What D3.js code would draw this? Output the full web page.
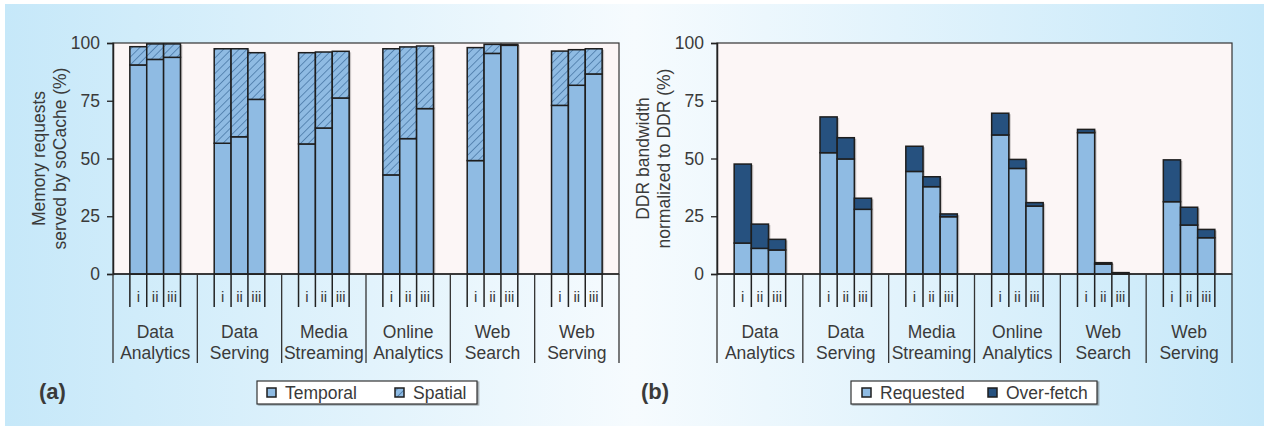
<!DOCTYPE html>
<html><head><meta charset="utf-8">
<script src="https://cdn.jsdelivr.net/npm/d3@7"></script>
<style>
html,body{margin:0;padding:0;background:#fff;}
svg{display:block;}
text{font-family:"Liberation Sans",Arial,Helvetica,sans-serif;fill:#3a3a3a;}
</style></head>
<body>
<svg id="chart" width="1264" height="426"></svg>
<script>
// ---- data ----
const categories = [["Data","Analytics"],["Data","Serving"],["Media","Streaming"],["Online","Analytics"],["Web","Search"],["Web","Serving"]];
const subLabels = ["i","ii","iii"];
const yTicks = [0,25,50,75,100];
// panel (a): memory requests served by soCache (%)
const temporal = [[90.5,92.9,93.8],[56.6,59.4,75.6],[56.3,63.2,76.2],[42.9,58.6,71.6],[49.1,95.5,99.0],[73.0,81.7,86.6]];
const spatial  = [[7.9,6.7,5.8],[40.9,38.1,20.2],[39.5,32.9,20.2],[54.6,39.7,27.1],[48.9,3.9,0.4],[23.5,15.4,10.9]];
// panel (b): DDR bandwidth normalized to DDR (%)
const requested = [[13.4,11.1,10.4],[52.5,49.8,28.0],[44.4,37.8,24.8],[60.2,45.7,29.4],[61.2,4.3,0.3],[31.3,21.2,15.7]];
const overfetch = [[34.2,10.5,4.6],[15.5,9.2,4.8],[10.9,4.3,1.2],[9.4,3.9,1.5],[1.4,0.6,0.3],[18.1,7.7,3.6]];

const FS = "17.5px";
const svg = d3.select("#chart");
const defs = svg.append("defs");
const bg = defs.append("linearGradient").attr("id","bg").attr("x1","0").attr("x2","1").attr("y1","0").attr("y2","0");
bg.append("stop").attr("offset","0").attr("stop-color","#c6e8f9");
bg.append("stop").attr("offset","0.5").attr("stop-color","#f6fbfe");
bg.append("stop").attr("offset","1").attr("stop-color","#c6e8f9");
const pat = defs.append("pattern").attr("id","hatch").attr("patternUnits","userSpaceOnUse")
  .attr("width",5.5).attr("height",5.5).attr("patternTransform","rotate(45)");
pat.append("rect").attr("width",5.5).attr("height",5.5).attr("fill","#8fbbe3");
pat.append("line").attr("x1",0).attr("y1",0).attr("x2",0).attr("y2",5.5).attr("stroke","#2c5c8c").attr("stroke-width",1.1);
const sh = defs.append("filter").attr("id","shadow").attr("x","-20%").attr("y","-20%").attr("width","150%").attr("height","150%");
sh.append("feDropShadow").attr("dx",1.5).attr("dy",1).attr("stdDeviation",0.7).attr("flood-color","#000").attr("flood-opacity",0.35);

svg.append("rect").attr("x",5).attr("y",4).attr("width",1259).attr("height",422).attr("fill","url(#bg)");

const LIGHT = "#8fbbe3", DARK = "#26517f", HATCH = "url(#hatch)";

function panel(cfg){
  const g = svg.append("g");
  const y = d3.scaleLinear().domain([0,100]).range([274,43]);
  const xg = d3.scaleBand().domain(d3.range(categories.length)).range([cfg.x0,cfg.x1]).padding(0);
  const xs = d3.scaleBand().domain(subLabels).range([0,xg.bandwidth()]).paddingInner(0).paddingOuter(1);

  // plot area
  g.append("rect").attr("x",cfg.x0).attr("y",y(100)).attr("width",cfg.x1-cfg.x0).attr("height",y(0)-y(100))
    .attr("fill","#fcf6f6").attr("stroke","#333").attr("stroke-width",1.2);

  // y axis
  const ax = g.append("g").attr("transform",`translate(${cfg.x0},0)`)
    .call(d3.axisLeft(y).tickValues(yTicks).tickSize(6).tickPadding(7));
  ax.attr("font-size",null).attr("font-family",null);
  ax.select(".domain").attr("stroke","#222").attr("stroke-width",1.5);
  ax.selectAll(".tick line").attr("stroke","#222").attr("stroke-width",1.3);
  ax.selectAll(".tick text").style("font-size",FS).attr("fill","#3a3a3a");

  // axis title
  const tt = g.append("text").attr("transform",`translate(${cfg.tx},158.5) rotate(-90)`).attr("text-anchor","middle").style("font-size",FS);
  tt.append("tspan").attr("x",0).attr("dy","0.35em").text(cfg.title[0]);
  tt.append("tspan").attr("x",0).attr("dy",21).text(cfg.title[1]);

  // bars
  categories.forEach((c,ci)=>{
    subLabels.forEach((s,si)=>{
      const bx = xg(ci)+xs(s), bw = xs.bandwidth();
      const v1 = cfg.s1[ci][si], v2 = cfg.s2[ci][si];
      g.append("rect").attr("x",bx).attr("y",y(v1+v2)).attr("width",bw).attr("height",y(0)-y(v1+v2))
        .attr("fill","#000").attr("filter","url(#shadow)");
      g.append("rect").attr("x",bx).attr("y",y(v1)).attr("width",bw).attr("height",y(0)-y(v1))
        .attr("fill",cfg.c1).attr("stroke","#1e1e1e").attr("stroke-width",1.5);
      g.append("rect").attr("x",bx).attr("y",y(v1+v2)).attr("width",bw).attr("height",y(v1)-y(v1+v2))
        .attr("fill",cfg.c2).attr("stroke","#1e1e1e").attr("stroke-width",1.5);
    });
  });

  // x axis line
  g.append("line").attr("x1",cfg.x0).attr("x2",cfg.x1).attr("y1",y(0)).attr("y2",y(0)).attr("stroke","#222").attr("stroke-width",1.5);

  // group dividers
  const edges = categories.map((c,i)=>xg(i)).concat([cfg.x1]);
  g.selectAll(".div").data(edges).enter().append("line")
    .attr("x1",d=>d).attr("x2",d=>d).attr("y1",y(0)).attr("y2",363).attr("stroke","#333").attr("stroke-width",1.3);

  categories.forEach((c,ci)=>{
    const gx = xg(ci);
    const subEdges = subLabels.map(s=>gx+xs(s)).concat([gx+xs("iii")+xs.bandwidth()]);
    subEdges.forEach(e=>{
      g.append("line").attr("x1",e).attr("x2",e).attr("y1",y(0)).attr("y2",307).attr("stroke","#222").attr("stroke-width",1.5);
    });
    subLabels.forEach(s=>{
      g.append("text").attr("x",gx+xs(s)+xs.bandwidth()/2).attr("y",302).attr("text-anchor","middle")
        .style("font-size","15px").text(s);
    });
    const lbl = g.append("text").attr("text-anchor","middle").style("font-size",FS);
    lbl.append("tspan").attr("x",gx+xg.bandwidth()/2).attr("y",337.5).text(c[0]);
    lbl.append("tspan").attr("x",gx+xg.bandwidth()/2).attr("y",358.5).text(c[1]);
  });

  // panel label
  g.append("text").attr("x",cfg.lx).attr("y",399).style("font-size","22px").style("font-weight","bold").attr("fill","#1a1a1a").text(cfg.label);

  // legend
  const L = cfg.legend;
  g.append("rect").attr("x",L.x).attr("y",381).attr("width",L.w).attr("height",23).attr("fill","#fff")
    .attr("stroke","#333").attr("stroke-width",1.2).attr("filter","url(#shadow)");
  L.items.forEach((it,i)=>{
    g.append("rect").attr("x",it.sx).attr("y",388).attr("width",9).attr("height",9)
      .attr("fill",it.fill).attr("stroke","#1e1e1e").attr("stroke-width",1.5);
    g.append("text").attr("x",it.sx+18).attr("y",398.5).style("font-size",FS).text(it.name);
  });
}

panel({x0:113,x1:619,tx:39,title:["Memory requests","served by soCache (%)"],s1:temporal,s2:spatial,c1:LIGHT,c2:HATCH,
  label:"(a)",lx:39,legend:{x:257,w:220,items:[{sx:267,fill:LIGHT,name:"Temporal"},{sx:395,fill:HATCH,name:"Spatial"}]}});
panel({x0:717,x1:1232,tx:643,title:["DDR bandwidth","normalized to DDR (%)"],s1:requested,s2:overfetch,c1:LIGHT,c2:DARK,
  label:"(b)",lx:641,legend:{x:851,w:246,items:[{sx:862,fill:LIGHT,name:"Requested"},{sx:988,fill:DARK,name:"Over-fetch"}]}});
</script>
</body></html>
